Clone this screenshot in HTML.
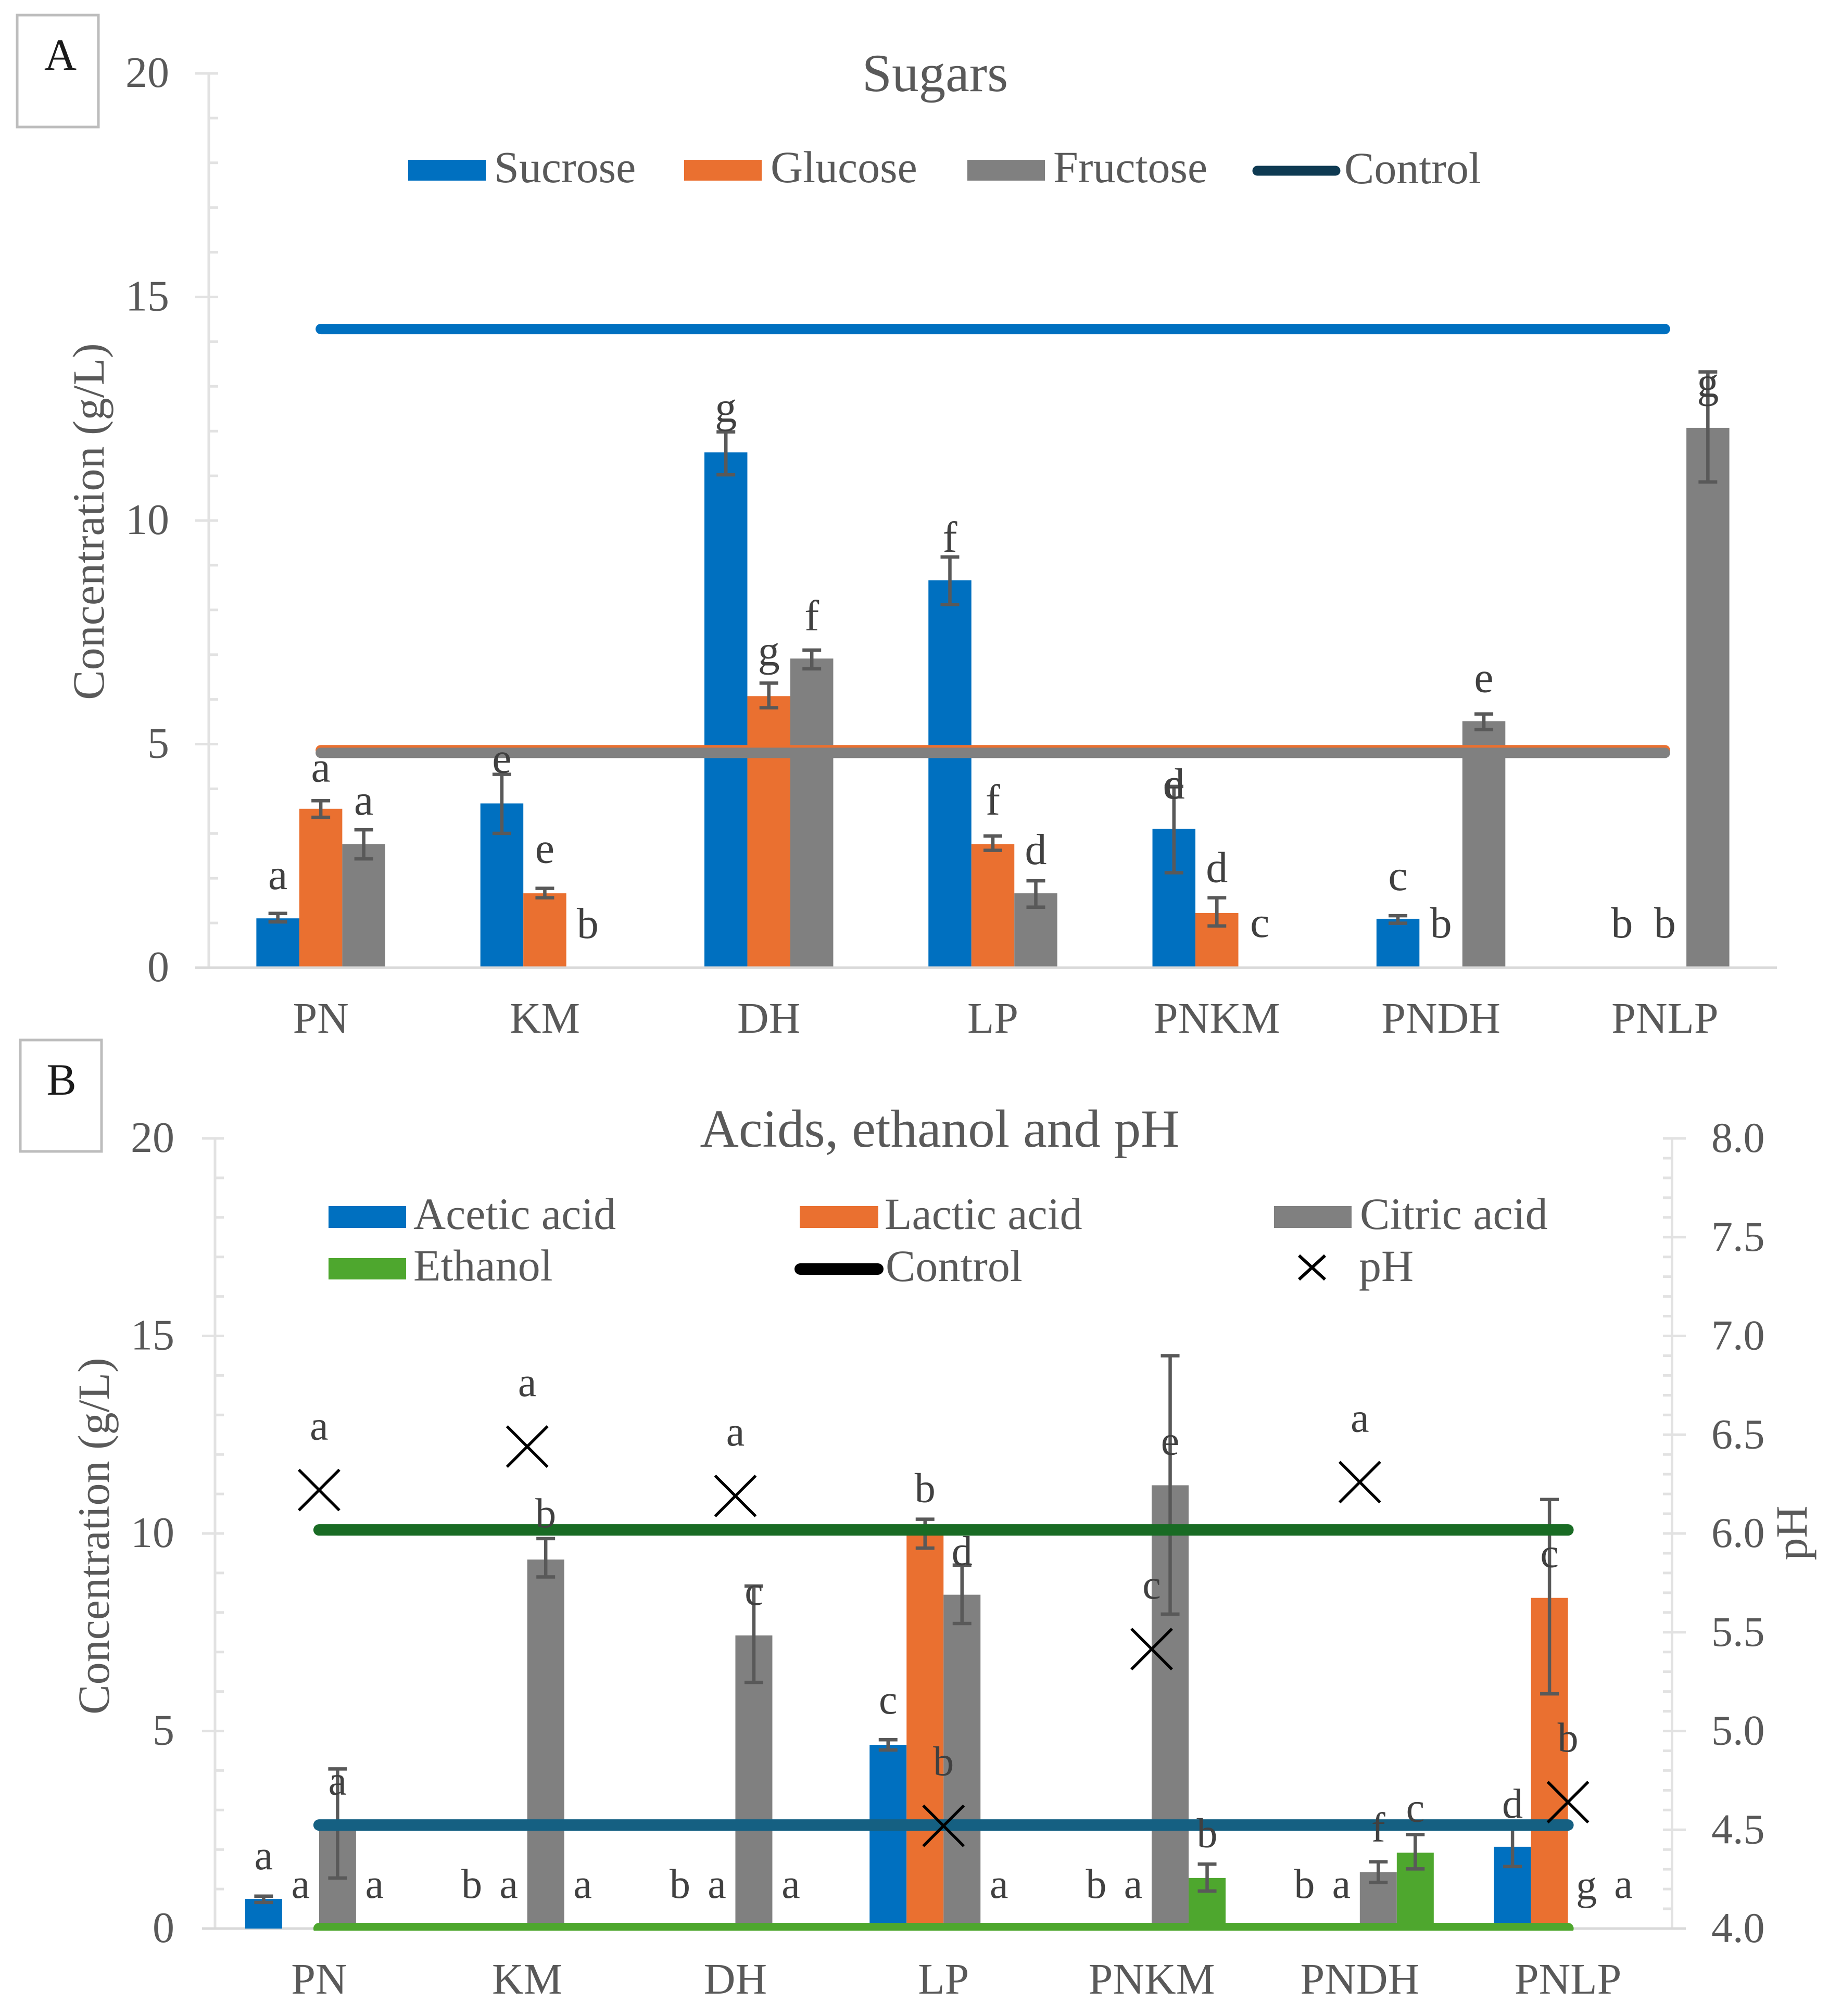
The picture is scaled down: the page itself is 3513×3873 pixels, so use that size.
<!DOCTYPE html>
<html lang="en">
<head>
<meta charset="utf-8">
<title>Sugars, acids, ethanol and pH</title>
<style>
html,body{margin:0;padding:0;background:#fff;}
svg{display:block;font-family:"Liberation Serif",serif;}
.tick{font-size:84px;fill:#595959;}
.leg{font-size:86px;fill:#595959;}
.ttl{font-size:103px;fill:#595959;text-anchor:middle;}
.ax{font-size:86px;fill:#595959;text-anchor:middle;}
.ltr{fill:#404040;text-anchor:middle;}
</style>
</head>
<body>
<svg id="figure" xmlns="http://www.w3.org/2000/svg" width="3513" height="3873" viewBox="0 0 3513 3873">
<rect width="3513" height="3873" fill="#ffffff"/>
<defs><clipPath id="clip-b"><rect x="380" y="2100" width="2880" height="1609"/></clipPath></defs>

<g id="panel-a">
<rect x="33" y="29" width="156" height="215" fill="#fff" stroke="#bdbdbd" stroke-width="5"/>
<text x="116" y="134" font-size="86" fill="#1a1a1a" text-anchor="middle">A</text>
<text class="ttl" x="1796" y="175">Sugars</text>
<text class="ax" transform="translate(199,1002) rotate(-90)">Concentration (g/L)</text>
<g>
<rect x="784" y="307" width="149" height="40" fill="#0070c0"/>
<text class="leg" x="949" y="350">Sucrose</text>
<rect x="1314" y="307" width="149" height="40" fill="#ea7030"/>
<text class="leg" x="1480" y="350">Glucose</text>
<rect x="1858" y="307" width="149" height="40" fill="#808080"/>
<text class="leg" x="2023" y="350">Fructose</text>
<line x1="2415" y1="328" x2="2565" y2="328" stroke="#0e3a52" stroke-width="19" stroke-linecap="round"/>
<text class="leg" x="2582" y="352">Control</text>
</g>
</g>

<g id="panel-b">
<rect x="39" y="1998" width="156" height="214" fill="#fff" stroke="#bdbdbd" stroke-width="5"/>
<text x="118" y="2103" font-size="86" fill="#1a1a1a" text-anchor="middle">B</text>
<text class="ttl" x="1805" y="2203">Acids, ethanol and pH</text>
<text class="ax" transform="translate(209,2951) rotate(-90)">Concentration (g/L)</text>
<text class="ax" transform="translate(3470,2945) rotate(-90)">pH</text>
<g>
<rect x="631" y="2317" width="149" height="42" fill="#0070c0"/>
<text class="leg" x="794" y="2361">Acetic acid</text>
<rect x="1536" y="2317" width="151" height="42" fill="#ea7030"/>
<text class="leg" x="1699" y="2361">Lactic acid</text>
<rect x="2447" y="2317" width="149" height="42" fill="#808080"/>
<text class="leg" x="2612" y="2361">Citric acid</text>
<rect x="631" y="2417" width="149" height="41" fill="#4ea72e"/>
<text class="leg" x="794" y="2460">Ethanol</text>
<line x1="1537" y1="2438" x2="1686" y2="2438" stroke="#000" stroke-width="22" stroke-linecap="round"/>
<text class="leg" x="1701" y="2461">Control</text>
<path d="M2495 2412L2545 2458M2545 2412L2495 2458" stroke="#000" stroke-width="6" fill="none"/>
<text class="leg" x="2610" y="2461">pH</text>
</g>
</g>
</svg>

<script>
/* ---------- Chart A data ---------- */
const categoriesA = ['PN','KM','DH','LP','PNKM','PNDH','PNLP'];
const ticksA = [0,5,10,15,20];
const minorTicksA = [1,2,3,4,6,7,8,9,11,12,13,14,16,17,18,19];
const sucroseValues = [1.08,3.65,11.5,8.64,3.08,1.07,0];
const glucoseValues = [3.53,1.64,6.05,2.74,1.2,0,0];
const fructoseValues = [2.74,0,6.89,1.64,0,5.49,12.05];
const sucroseHigh = [1.19,4.3,11.96,9.16,4.03,1.14,0];
const sucroseLow = [1.0,2.98,11.0,8.1,2.1,0.97,0];
const glucoseHigh = [3.71,1.75,6.34,2.92,1.54,0,0];
const glucoseLow = [3.34,1.54,5.79,2.6,0.91,0,0];
const fructoseHigh = [3.06,0,7.08,1.92,0,5.65,13.3];
const fructoseLow = [2.41,0,6.66,1.33,0,5.3,10.84];
const sucroseLetters = ['a','e','g','f','e|d','c','b'];
const glucoseLetters = ['a','e','g','f','d','b','b'];
const fructoseLetters = ['a','b','f','d','c','e','g'];
const controlSucrose = [14.26,14.26,14.26,14.26,14.26,14.26,14.26];
const controlGlucose = [4.84,4.84,4.84,4.84,4.84,4.84,4.84];
const controlFructose = [4.78,4.78,4.78,4.78,4.78,4.78,4.78];

/* ---------- Chart B data ---------- */
const categoriesB = ['PN','KM','DH','LP','PNKM','PNDH','PNLP'];
const ticksB = [0,5,10,15,20];
const minorTicksB = [1,2,3,4,6,7,8,9,11,12,13,14,16,17,18,19];
const ticksPH = ['4.0','4.5','5.0','5.5','6.0','6.5','7.0','7.5','8.0'];
const minorTicksPH = [4.1,4.2,4.3,4.4,4.6,4.7,4.8,4.9,5.1,5.2,5.3,5.4,5.6,5.7,5.8,5.9,6.1,6.2,6.3,6.4,6.6,6.7,6.8,6.9,7.1,7.2,7.3,7.4,7.6,7.7,7.8,7.9];
const aceticValues = [0.75,0,0,4.65,0,0,2.07];
const lacticValues = [0,0,0,10.0,0,0,8.37];
const citricValues = [2.66,9.34,7.42,8.45,11.22,1.43,0];
const ethanolValues = [0,0,0,0,1.28,1.92,0];
const aceticHigh = [0.82,0,0,4.78,0,0,2.57];
const aceticLow = [0.66,0,0,4.52,0,0,1.57];
const lacticHigh = [0,0,0,10.36,0,0,10.86];
const lacticLow = [0,0,0,9.63,0,0,5.94];
const citricHigh = [4.04,9.87,8.67,9.2,14.5,1.69,0];
const citricLow = [1.28,8.9,6.23,7.72,7.96,1.17,0];
const ethanolHigh = [0,0,0,0,1.63,2.38,0];
const ethanolLow = [0,0,0,0,0.95,1.51,0];
const phValues = [6.22,6.44,6.19,4.52,5.415,6.26,4.64];
const aceticLetters = ['a','b','b','c','b','b','d'];
const lacticLetters = ['a','a','a','b','a','a','c'];
const citricLetters = ['a','b','c','d','e','f','g'];
const ethanolLetters = ['a','a','a','a','b','c','a'];
const phLetters = ['a','a','a','b','c','a','b'];
const controlCitric = [2.62,2.62,2.62,2.62,2.62,2.62,2.62];
const controlLactic = [10.09,10.09,10.09,10.09,10.09,10.09,10.09];
const controlEthanol = [0,0,0,0,0,0,0];

/* ---------- Layout (pixels, not data) ---------- */
const NS = 'http://www.w3.org/2000/svg';
const LEFT_A = 401, RIGHT_A = 3413, BASE_A = 1857, AXIS_A = 1859, UNIT_A = 85.9;
const LEFT_B = 413, RIGHT_B = 3211.5, BASE_B = 3705, UNIT_B = 75.9, UNIT_PH = 379.5;
const BAR_A = 82.5, BAR_B = 71, CAP = 36;
const liftLayoutA = {
  sucrose: [47,3,19,10,-23,49,56],
  glucose: [37,49,34,41,30,56,56],
  fructose: [29,55,38,32,57,42,-48]
};
const liftLayoutB = {
  acetic: [52,59,59,50,59,59,18],
  lactic: [59,59,59,33,59,59,-130],
  citric: [-49,22,-36,0,-190,39,56],
  ethanol: [59,59,59,59,33,25,59]
};
const PH_LABEL_LIFT = 97;

function catA(i){ return LEFT_A + (RIGHT_A - LEFT_A) / 7 * (i + 0.5); }
function catB(i){ return LEFT_B + (RIGHT_B - LEFT_B) / 7 * (i + 0.5); }
function yA(v){ return BASE_A - UNIT_A * v; }
function yB(v){ return BASE_B - UNIT_B * v; }
function yPH(p){ return BASE_B - UNIT_PH * (p - 4); }

function mk(tag, attrs, parent){
  const el = document.createElementNS(NS, tag);
  for (const k in attrs) el.setAttribute(k, attrs[k]);
  parent.appendChild(el);
  return el;
}

function drawAxisLine(parent, x1, y1, x2, y2, color, name){
  const el = mk('line', {x1:x1, y1:y1, x2:x2, y2:y2, stroke:color, 'stroke-width':5}, parent);
  
  
}

function drawTickLabel(parent, x, y, txt, anchor, name, size){
  const el = mk('text', {x:x, y:y, class:'tick', 'text-anchor':anchor, 'font-size':size, style:'font-size:' + size + 'px'}, parent);
  el.textContent = txt;
  
  
}

function drawSeries(parent, cfg){
  const offset = (cfg.index - (cfg.count - 1) / 2) * cfg.barWidth;
  cfg.values.forEach(function(v, i){
    const cx = cfg.cat(i) + offset;
    if (v > 0) {
      const bar = mk('rect', {x:cx - cfg.barWidth / 2, y:cfg.y(v), width:cfg.barWidth, height:cfg.y(0) - cfg.y(v), fill:cfg.color}, parent);
      
      
    }
  });
}

function drawErrors(parent, cfg){
  const offset = (cfg.index - (cfg.count - 1) / 2) * cfg.barWidth;
  cfg.values.forEach(function(v, i){
    if (!(v > 0)) return;
    const cx = cfg.cat(i) + offset;
    const t = cfg.y(cfg.high[i]), b = cfg.y(cfg.low[i]);
    const d = 'M' + cx + ' ' + t + 'V' + b + 'M' + (cx - CAP / 2) + ' ' + t + 'H' + (cx + CAP / 2) + 'M' + (cx - CAP / 2) + ' ' + b + 'H' + (cx + CAP / 2);
    const err = mk('path', {d:d, stroke:'#595959', 'stroke-width':6.5, fill:'none'}, parent);
    
    
  });
}

function drawLetters(parent, cfg){
  const offset = (cfg.index - (cfg.count - 1) / 2) * cfg.barWidth;
  cfg.letters.forEach(function(txt, i){
    const cx = cfg.cat(i) + offset;
    const top = cfg.values[i] > 0 ? cfg.y(cfg.high[i]) : cfg.y(0);
    txt.split('|').forEach(function(ch){
      const t = mk('text', {x:cx, y:top - cfg.lift[i], class:'ltr', 'font-size':cfg.fontSize}, parent);
      t.textContent = ch;
      
      
    });
  });
}

function drawControl(parent, values, cat, y, color, width, name){
  const d = values.map(function(v, i){ return (i ? 'L' : 'M') + cat(i) + ' ' + y(v); }).join('');
  const line = mk('path', {d:d, stroke:color, 'stroke-width':width, 'stroke-linecap':'round', fill:'none'}, parent);
  
  
}

/* ---------- Chart A ---------- */
(function(){
  const root = document.getElementById('panel-a');
  const tickY = function(v){ return AXIS_A - UNIT_A * v; };
  const axisColor = '#e2e2e2';
  const axes = mk('g', {}, root);
  
  
  drawAxisLine(axes, LEFT_A, tickY(20), LEFT_A, AXIS_A, axisColor, 'chart-a-y-axis');
  ticksA.forEach(function(t){
    if (t !== 0) drawAxisLine(axes, 375, tickY(t), 419, tickY(t), axisColor, 'chart-a-y-tick-' + t);
    drawTickLabel(axes, 325, tickY(t) + 26, String(t), 'end', 'chart-a-y-tick-label-' + t, 84);
  });
  minorTicksA.forEach(function(t){
    drawAxisLine(axes, LEFT_A, tickY(t), 419, tickY(t), axisColor, 'chart-a-y-minor-tick-' + t);
  });
  categoriesA.forEach(function(c, i){
    drawTickLabel(axes, catA(i), 1984, c, 'middle', 'chart-a-x-label-' + c.toLowerCase(), 84);
  });
  const common = {count:3, barWidth:BAR_A, cat:catA, y:yA, cats:categoriesA, fontSize:84};
  const series = [
    Object.assign({index:0, name:'sucrose', color:'#0070c0', values:sucroseValues, high:sucroseHigh, low:sucroseLow, letters:sucroseLetters, lift:liftLayoutA.sucrose}, common),
    Object.assign({index:1, name:'glucose', color:'#ea7030', values:glucoseValues, high:glucoseHigh, low:glucoseLow, letters:glucoseLetters, lift:liftLayoutA.glucose}, common),
    Object.assign({index:2, name:'fructose', color:'#808080', values:fructoseValues, high:fructoseHigh, low:fructoseLow, letters:fructoseLetters, lift:liftLayoutA.fructose}, common)
  ];
  series.forEach(function(s){ drawSeries(root, s); });
  drawAxisLine(root, 375, AXIS_A, RIGHT_A, AXIS_A, '#d9d9d9', 'chart-a-x-axis');
  series.forEach(function(s){ drawErrors(root, s); });
  drawControl(root, controlSucrose, catA, yA, '#0070c0', 20, 'control-line-sucrose');
  drawControl(root, controlGlucose, catA, yA, '#ea7030', 20, 'control-line-glucose');
  drawControl(root, controlFructose, catA, yA, '#808080', 20, 'control-line-fructose');
  series.forEach(function(s){ drawLetters(root, s); });
})();

/* ---------- Chart B ---------- */
(function(){
  const root = document.getElementById('panel-b');
  const axisColor = '#e2e2e2';
  const axes = mk('g', {}, root);
  
  
  drawAxisLine(axes, LEFT_B, yB(20), LEFT_B, BASE_B, axisColor, 'chart-b-y-axis');
  drawAxisLine(axes, RIGHT_B, yPH(8), RIGHT_B, BASE_B, axisColor, 'chart-b-ph-axis');
  drawAxisLine(axes, 388, BASE_B, 3238, BASE_B, '#d9d9d9', 'chart-b-x-axis');
  ticksB.forEach(function(t){
    if (t !== 0) drawAxisLine(axes, 388, yB(t), 430, yB(t), axisColor, 'chart-b-y-tick-' + t);
    drawTickLabel(axes, 335, yB(t) + 26, String(t), 'end', 'chart-b-y-tick-label-' + t, 84);
  });
  minorTicksB.forEach(function(t){
    drawAxisLine(axes, LEFT_B, yB(t), 430, yB(t), axisColor, 'chart-b-y-minor-tick-' + t);
  });
  ticksPH.forEach(function(t){
    if (t !== '4.0') drawAxisLine(axes, 3194, yPH(+t), 3238, yPH(+t), axisColor, 'chart-b-ph-tick-' + t);
    drawTickLabel(axes, 3287, yPH(+t) + 26, t, 'start', 'chart-b-ph-tick-label-' + t, 82);
  });
  minorTicksPH.forEach(function(t){
    drawAxisLine(axes, 3194, yPH(t), RIGHT_B, yPH(t), axisColor, 'chart-b-ph-minor-tick-' + t);
  });
  categoriesB.forEach(function(c, i){
    drawTickLabel(axes, catB(i), 3830, c, 'middle', 'chart-b-x-label-' + c.toLowerCase(), 84);
  });
  const common = {count:4, barWidth:BAR_B, cat:catB, y:yB, cats:categoriesB, fontSize:80};
  const series = [
    Object.assign({index:0, name:'acetic-acid', color:'#0070c0', values:aceticValues, high:aceticHigh, low:aceticLow, letters:aceticLetters, lift:liftLayoutB.acetic}, common),
    Object.assign({index:1, name:'lactic-acid', color:'#ea7030', values:lacticValues, high:lacticHigh, low:lacticLow, letters:lacticLetters, lift:liftLayoutB.lactic}, common),
    Object.assign({index:2, name:'citric-acid', color:'#808080', values:citricValues, high:citricHigh, low:citricLow, letters:citricLetters, lift:liftLayoutB.citric}, common),
    Object.assign({index:3, name:'ethanol', color:'#4ea72e', values:ethanolValues, high:ethanolHigh, low:ethanolLow, letters:ethanolLetters, lift:liftLayoutB.ethanol}, common)
  ];
  series.forEach(function(s){ drawSeries(root, s); });
  series.forEach(function(s){ drawErrors(root, s); });
  const clipped = mk('g', {'clip-path':'url(#clip-b)'}, root);
  
  
  drawControl(clipped, controlEthanol, catB, yB, '#4ea72e', 22, 'control-line-ethanol');
  drawControl(clipped, controlCitric, catB, yB, '#156082', 22, 'control-line-citric-acid');
  drawControl(clipped, controlLactic, catB, yB, '#196b24', 22, 'control-line-lactic-acid');
  phValues.forEach(function(p, i){
    const x = catB(i), y = yPH(p), h = 39;
    const m = mk('path', {d:'M' + (x - h) + ' ' + (y - h) + 'L' + (x + h) + ' ' + (y + h) + 'M' + (x + h) + ' ' + (y - h) + 'L' + (x - h) + ' ' + (y + h), stroke:'#000', 'stroke-width':5.5, fill:'none'}, root);
    
    
    const t = mk('text', {x:x, y:y - PH_LABEL_LIFT, class:'ltr', 'font-size':80}, root);
    t.textContent = phLetters[i];
    
    
  });
  series.forEach(function(s){ drawLetters(root, s); });
})();
</script>
</body>
</html>
